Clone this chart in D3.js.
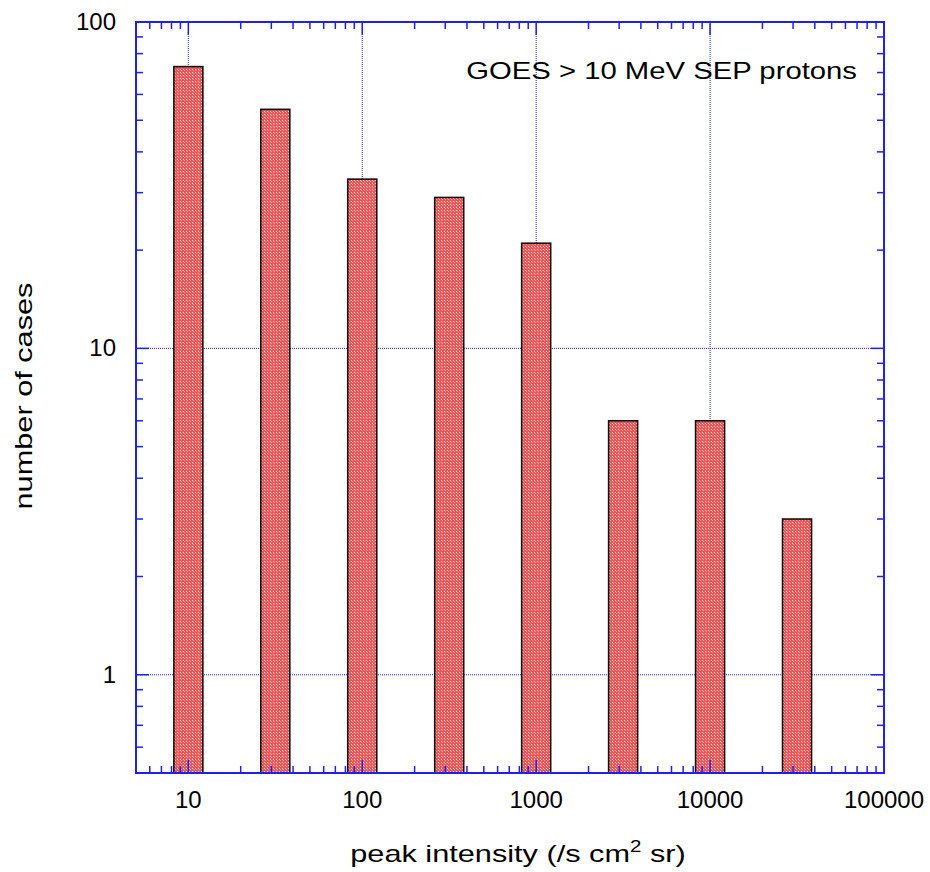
<!DOCTYPE html>
<html>
<head>
<meta charset="utf-8">
<script src="https://cdn.jsdelivr.net/npm/d3@7"></script>
<style>
  html, body { margin: 0; padding: 0; background: #fff; }
  svg text { font-family: "Liberation Sans", Arial, Helvetica, sans-serif; fill: #000; }
</style>
</head>
<body>
<svg id="chart" width="930" height="872"></svg>
<script>
// bin centres (log half-decades) and counts
const binCenters = [10, 31.62, 100, 316.2, 1000, 3162, 10000, 31620];
const counts = [73, 54, 33, 29, 21, 6, 6, 3];
const xTickValues = [10, 100, 1000, 10000, 100000];
const xTickLabels = ['10', '100', '1000', '10000', '100000'];
const yTickValues = [1, 10, 100];
const yTickLabels = ['1', '10', '100'];
const titleText = 'GOES > 10 MeV SEP protons';

const margin = { left: 136, right: 46, top: 22, bottom: 99 };
const W = 930, H = 872;
const blue = '#1f1ff0';

const svg = d3.select('#chart');

const x = d3.scaleLog().domain([5, 100000]).range([margin.left, W - margin.right]);
const y = d3.scaleLog().domain([0.5, 100]).range([H - margin.bottom, margin.top]);

// hatch pattern for bars
const defs = svg.append('defs');
const pat = defs.append('pattern')
    .attr('id', 'hatch')
    .attr('patternUnits', 'userSpaceOnUse')
    .attr('width', 3).attr('height', 3);
pat.append('rect').attr('width', 3).attr('height', 3).attr('fill', '#ec5656');
pat.append('rect').attr('x', 0).attr('y', 0).attr('width', 1).attr('height', 1).attr('fill', '#ffe0e0');
pat.append('rect').attr('x', 1).attr('y', 1).attr('width', 1).attr('height', 1).attr('fill', '#f79a9a');

const x0 = x.range()[0], x1 = x.range()[1];
const y0 = y.range()[0], y1 = y.range()[1];

// grid (dotted) at major ticks
const grid = svg.append('g').attr('class', 'grid');
grid.selectAll('line.gx')
    .data(xTickValues.filter(d => d < 100000))
    .enter().append('line')
    .attr('x1', d => x(d)).attr('x2', d => x(d))
    .attr('y1', y0).attr('y2', y1)
    .attr('stroke', blue).attr('stroke-width', 1)
    .attr('stroke-dasharray', '1,1');
grid.selectAll('line.gy')
    .data(yTickValues.filter(d => d < 100))
    .enter().append('line')
    .attr('y1', d => y(d)).attr('y2', d => y(d))
    .attr('x1', x0).attr('x2', x1)
    .attr('stroke', blue).attr('stroke-width', 1)
    .attr('stroke-dasharray', '1,1');

// bars
const barW = 29;
svg.append('g')
    .selectAll('rect')
    .data(counts)
    .enter()
    .append('rect')
    .attr('x', (d, i) => x(binCenters[i]) - barW / 2)
    .attr('width', barW)
    .attr('y', d => y(d))
    .attr('height', d => y0 - y(d))
    .attr('fill', 'url(#hatch)')
    .attr('stroke', '#111')
    .attr('stroke-width', 1.6);

// ticks on all four sides, pointing inward
const xMinor = [];
for (let p = 0; p <= 4; p++) {
    for (let k = 1; k <= 9; k++) {
        const v = k * Math.pow(10, p);
        if (v >= 5 && v <= 100000) xMinor.push(v);
    }
}
const yMinor = [];
for (let p = -1; p <= 2; p++) {
    for (let k = 1; k <= 9; k++) {
        const v = k * Math.pow(10, p);
        if (v >= 0.5 && v <= 100) yMinor.push(v);
    }
}
const isMajor = v => Math.abs(Math.log10(v) - Math.round(Math.log10(v))) < 1e-9;

const ticks = svg.append('g').attr('stroke', blue).attr('stroke-width', 1.5);
xMinor.forEach(v => {
    const len = isMajor(v) ? 13 : 7;
    ticks.append('line').attr('x1', x(v)).attr('x2', x(v)).attr('y1', y0).attr('y2', y0 - len);
    ticks.append('line').attr('x1', x(v)).attr('x2', x(v)).attr('y1', y1).attr('y2', y1 + len);
});
yMinor.forEach(v => {
    const len = isMajor(v) ? 13 : 7;
    ticks.append('line').attr('y1', y(v)).attr('y2', y(v)).attr('x1', x0).attr('x2', x0 + len);
    ticks.append('line').attr('y1', y(v)).attr('y2', y(v)).attr('x1', x1).attr('x2', x1 - len);
});

// frame
svg.append('rect')
    .attr('x', x0).attr('y', y1)
    .attr('width', x1 - x0).attr('height', y0 - y1)
    .attr('fill', 'none').attr('stroke', blue).attr('stroke-width', 2);

// tick labels
svg.append('g')
    .selectAll('text')
    .data(xTickValues)
    .enter().append('text')
    .attr('x', d => x(d))
    .attr('y', 808)
    .attr('text-anchor', 'middle')
    .style('font-size', '24px')
    .text((d, i) => xTickLabels[i]);

svg.append('g')
    .selectAll('text')
    .data(yTickValues)
    .enter().append('text')
    .attr('x', 116)
    .attr('y', d => y(d) + 8)
    .attr('text-anchor', 'end')
    .style('font-size', '24px')
    .text((d, i) => yTickLabels[i]);

// title inside plot (original text is a bit wider than Arial)
svg.append('text')
    .attr('transform', 'translate(857, 79) scale(1.22, 1)')
    .attr('text-anchor', 'end')
    .style('font-size', '24px')
    .text(titleText);

// axis titles
const xt = svg.append('text')
    .attr('transform', 'translate(518, 862) scale(1.28, 1)')
    .attr('text-anchor', 'middle')
    .style('font-size', '24px');
xt.append('tspan').text('peak intensity (/s cm');
xt.append('tspan').attr('dy', -10).style('font-size', '16px').text('2');
xt.append('tspan').attr('dy', 10).text(' sr)');

svg.append('text')
    .attr('transform', 'translate(32, 396) rotate(-90) scale(1.28, 1)')
    .attr('text-anchor', 'middle')
    .style('font-size', '24px')
    .text('number of cases');
</script>
</body>
</html>
